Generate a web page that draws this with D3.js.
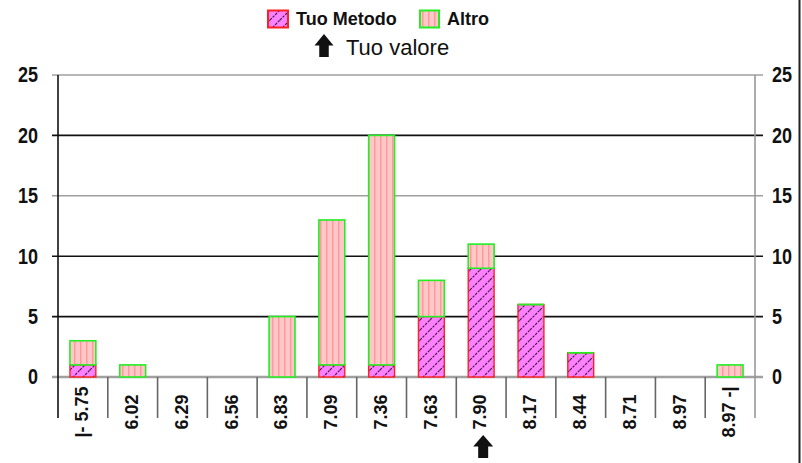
<!DOCTYPE html>
<html>
<head>
<meta charset="utf-8">
<script src="https://cdn.jsdelivr.net/npm/d3@7"></script>
<style>
  html, body { margin: 0; padding: 0; background: #fff; }
  svg { display: block; font-family: "Liberation Sans", Arial, sans-serif; }
</style>
</head>
<body>
<svg id="chart" width="802" height="463"></svg>
<script>
// ---- data ----
const categories = ["|- 5.75", "6.02", "6.29", "6.56", "6.83", "7.09", "7.36", "7.63", "7.90", "8.17", "8.44", "8.71", "8.97", "8.97 -|"];
const tuoMetodo = [1, 0, 0, 0, 0, 1, 1, 5, 9, 6, 2, 0, 0, 0];
const altro =     [2, 1, 0, 0, 5, 12, 19, 3, 2, 0, 0, 0, 0, 1];
const yTicks = [0, 5, 10, 15, 20, 25];
const seriesNames = ["Tuo Metodo", "Altro"];
const markerIndex = 8; // "Tuo valore" at 7.90
const markerLabel = "Tuo valore";

// ---- layout ----
const svg = d3.select("#chart");
const pLeft = 58, pRight = 755, pTop = 75, pBottom = 377, sepBottom = 418;

const idx = categories.map((d, i) => i);
const x = d3.scaleBand().domain(idx).range([pLeft, pRight]).paddingInner(0.48).paddingOuter(0.24);
const xb = d3.scaleBand().domain(idx).range([pLeft, pRight]);
const y = d3.scaleLinear().domain([0, 25]).range([pBottom, pTop]);

const defs = svg.append("defs");
const pT = defs.append("pattern").attr("id", "hatch").attr("patternUnits", "userSpaceOnUse")
  .attr("width", 10).attr("height", 10);
pT.append("rect").attr("width", 10).attr("height", 10).attr("fill", "#ff80ff");
pT.append("path").attr("d", "M0,10 L10,0 M-3,3 L3,-3 M7,13 L13,7")
  .attr("stroke", "#3a1a3a").attr("stroke-width", 1.1).attr("stroke-dasharray", "2.5,1.2");
const pA = defs.append("pattern").attr("id", "stripes").attr("patternUnits", "userSpaceOnUse")
  .attr("width", 6).attr("height", 6);
pA.append("rect").attr("width", 6).attr("height", 6).attr("fill", "#ffc8c8");
pA.append("rect").attr("x", 2).attr("width", 1.5).attr("height", 6).attr("fill", "#ff9a9a");

// gridlines + ticks
const darkTicks = new Set([5, 10, 20]);
svg.append("g").selectAll("line").data(yTicks).join("line")
  .attr("x1", 52).attr("x2", 763)
  .attr("y1", d => y(d)).attr("y2", d => y(d))
  .attr("stroke", d => darkTicks.has(d) ? "#111" : "#a0a0a0")
  .attr("stroke-width", d => d === 0 ? 2.5 : 1.6);

// y labels
const yFont = "bold 18px 'Liberation Sans', Arial, sans-serif";
svg.append("g").selectAll("text").data(yTicks).join("text")
  .attr("transform", d => `translate(38,${y(d)}) scale(1,1.18)`).attr("dy", "0.35em")
  .attr("text-anchor", "end").style("font", yFont).attr("fill", "#111")
  .text(d => d);
svg.append("g").selectAll("text").data(yTicks).join("text")
  .attr("transform", d => `translate(772,${y(d)}) scale(1,1.18)`).attr("dy", "0.35em")
  .attr("text-anchor", "start").style("font", yFont).attr("fill", "#111")
  .text(d => d);

// axes verticals
svg.append("line").attr("x1", pLeft).attr("x2", pLeft).attr("y1", pTop).attr("y2", sepBottom)
  .attr("stroke", "#111").attr("stroke-width", 1.6);
svg.append("line").attr("x1", pRight).attr("x2", pRight).attr("y1", pTop).attr("y2", sepBottom)
  .attr("stroke", "#999").attr("stroke-width", 1.6);

// category separators
svg.append("g").selectAll("line").data(idx.slice(1)).join("line")
  .attr("x1", d => xb(d)).attr("x2", d => xb(d))
  .attr("y1", pBottom).attr("y2", sepBottom)
  .attr("stroke", "#666").attr("stroke-width", 1.6);

// bars
const table = idx.map(i => ({ i, "Tuo Metodo": tuoMetodo[i], "Altro": altro[i] }));
const stacked = d3.stack().keys(seriesNames)(table);

svg.append("g").selectAll("rect").data(stacked[0].filter(d => d[1] > d[0])).join("rect")
  .attr("x", d => x(d.data.i)).attr("width", x.bandwidth())
  .attr("y", d => y(d[1])).attr("height", d => y(d[0]) - y(d[1]))
  .attr("fill", "url(#hatch)").attr("stroke", "#ff2020").attr("stroke-width", 1.4);

svg.append("g").selectAll("rect").data(stacked[1].filter(d => d[1] > d[0])).join("rect")
  .attr("x", d => x(d.data.i)).attr("width", x.bandwidth())
  .attr("y", d => y(d[1])).attr("height", d => y(d[0]) - y(d[1]))
  .attr("fill", "url(#stripes)").attr("stroke", "#22ee22").attr("stroke-width", 1.6);

// zero-height "Altro" segments still show their green outline on top of the stack
svg.append("g").selectAll("line").data(stacked[1].filter(d => d[1] === d[0] && d[1] > 0)).join("line")
  .attr("x1", d => x(d.data.i)).attr("x2", d => x(d.data.i) + x.bandwidth())
  .attr("y1", d => y(d[1])).attr("y2", d => y(d[1]))
  .attr("stroke", "#22ee22").attr("stroke-width", 1.8);

// x labels (rotated)
svg.append("g").selectAll("text").data(idx).join("text")
  .attr("transform", i => `translate(${xb(i) + xb.bandwidth() / 2 - 1},412) rotate(-90)`)
  .attr("text-anchor", "middle").attr("dy", "0.35em")
  .style("font", "bold 18px 'Liberation Sans', Arial, sans-serif").attr("fill", "#111")
  .text(i => categories[i]);

// arrow shape
const arrowPath = (cx, ty, w, h) => {
  const hh = h * 0.5, sw = w * 0.5;
  return `M${cx},${ty} L${cx + w / 2},${ty + hh} L${cx + sw / 2},${ty + hh} L${cx + sw / 2},${ty + h} ` +
         `L${cx - sw / 2},${ty + h} L${cx - sw / 2},${ty + hh} L${cx - w / 2},${ty + hh} Z`;
};
svg.append("path")
  .attr("d", arrowPath(xb(markerIndex) + xb.bandwidth() / 2 + 2, 435, 20, 23))
  .attr("fill", "#111");

// right frame
svg.append("line").attr("x1", 799.5).attr("x2", 799.5).attr("y1", 0).attr("y2", 463)
  .attr("stroke", "#222").attr("stroke-width", 2);

// legend
const lg = svg.append("g");
lg.append("rect").attr("x", 268).attr("y", 10.5).attr("width", 20).attr("height", 17)
  .attr("fill", "url(#hatch)").attr("stroke", "#ff2020").attr("stroke-width", 2);
lg.append("text").attr("x", 296).attr("y", 25).style("font", "bold 18px 'Liberation Sans', Arial, sans-serif")
  .attr("fill", "#111").text(seriesNames[0]);
lg.append("rect").attr("x", 420).attr("y", 10.5).attr("width", 19).attr("height", 17)
  .attr("fill", "url(#stripes)").attr("stroke", "#22ee22").attr("stroke-width", 2);
lg.append("text").attr("x", 447).attr("y", 25).style("font", "bold 18px 'Liberation Sans', Arial, sans-serif")
  .attr("fill", "#111").text(seriesNames[1]);
lg.append("path").attr("d", arrowPath(324, 34, 19, 23)).attr("fill", "#111");
lg.append("text").attr("x", 346).attr("y", 55).style("font", "22px 'Liberation Sans', Arial, sans-serif")
  .attr("fill", "#111").text(markerLabel);
</script>
</body>
</html>
